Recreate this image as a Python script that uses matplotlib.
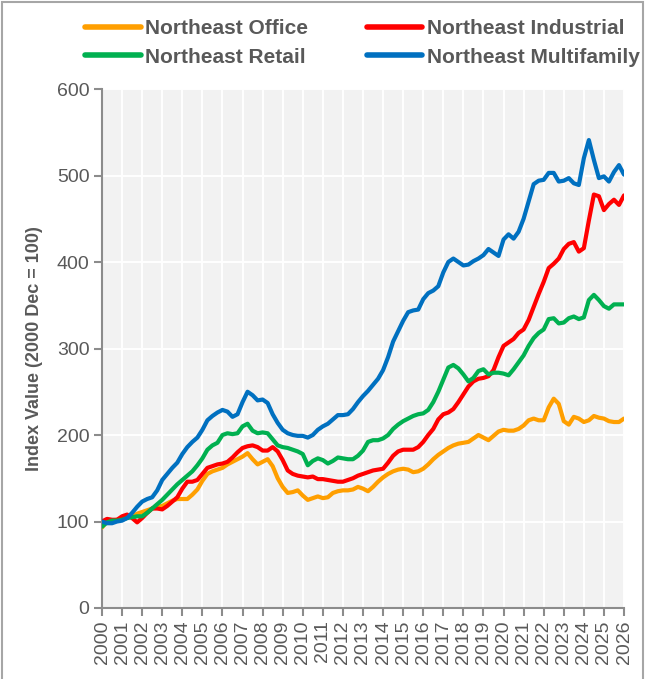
import numpy as np
import matplotlib
matplotlib.use("Agg")
import matplotlib.pyplot as plt
from matplotlib.patches import Rectangle

plt.rcParams['font.family'] = ['Liberation Sans', 'DejaVu Sans']

# quarterly index values, 2000Q1 .. 2026Q1
office = [93, 100, 101, 102, 103, 105, 106, 109, 111, 113, 115, 117, 118, 121, 124, 126,
          126, 126, 131, 137, 147, 155, 158, 160, 162, 166, 169, 172, 175, 179, 172, 166,
          169, 172, 164, 150, 140, 133, 134, 136, 130, 125, 127, 129, 127, 128, 133, 135,
          136, 136, 137, 140, 138, 135, 140, 146, 151, 155, 158, 160, 161, 160, 157, 158,
          161, 166, 172, 177, 181, 185, 188, 190, 191, 192, 196, 200, 197, 194, 199, 204,
          206, 205, 205, 207, 211, 217, 219, 217, 217, 232, 242, 236, 216, 212, 221, 219,
          215, 217, 222, 220, 219, 216, 215, 215, 219]
industrial = [100, 103, 102, 102, 106, 108, 104, 99, 104, 110, 115, 115, 114, 118, 123, 128,
              138, 146, 146, 148, 155, 162, 164, 166, 167, 169, 174, 180, 185, 187, 188, 186,
              182, 182, 186, 181, 171, 159, 155, 153, 152, 151, 152, 149, 149, 148, 147, 146,
              146, 148, 150, 153, 155, 157, 159, 160, 161, 168, 176, 181, 183, 183, 183, 186,
              192, 200, 207, 218, 224, 226, 230, 238, 247, 256, 262, 265, 266, 268, 275, 290,
              303, 307, 311, 318, 322, 333, 348, 363, 377, 393, 398, 404, 415, 421, 423, 412,
              416, 448, 478, 476, 460, 467, 472, 466, 477]
retail = [94, 99, 101, 101, 102, 104, 105, 106, 106, 110, 115, 120, 125, 131, 137, 143,
          148, 153, 158, 165, 173, 183, 188, 191, 200, 202, 201, 202, 210, 213, 205, 202,
          203, 202, 195, 188, 186, 185, 183, 181, 178, 165, 170, 173, 171, 167, 170, 174,
          173, 172, 172, 176, 182, 192, 194, 194, 196, 200, 207, 212, 216, 219, 222, 224,
          225, 229, 238, 250, 264, 278, 281, 277, 270, 262, 266, 274, 276, 270, 272, 272,
          271, 269, 276, 284, 292, 303, 312, 318, 322, 334, 335, 329, 330, 335, 337, 334,
          336, 356, 362, 356, 349, 346, 351, 351, 351]
multifamily = [100, 98, 98, 100, 101, 104, 110, 117, 123, 126, 128, 136, 148, 155, 162, 168,
               178, 186, 192, 197, 206, 217, 222, 226, 229, 227, 221, 224, 238, 250, 246, 240,
               241, 237, 224, 214, 206, 202, 200, 199, 199, 197, 200, 206, 210, 213, 218, 223,
               223, 224, 230, 238, 245, 251, 258, 265, 275, 290, 308, 320, 332, 342, 344, 345,
               357, 364, 367, 372, 388, 400, 404, 400, 396, 397, 401, 404, 408, 415, 411, 407,
               426, 432, 427, 435, 450, 470, 490, 494, 495, 503, 503, 493, 494, 497, 491, 489,
               520, 541, 518, 497, 499, 493, 504, 512, 501]

series_names = ["Northeast Office", "Northeast Industrial", "Northeast Retail", "Northeast Multifamily"]
series_colors = ["#FF9F00", "#FF0000", "#00B050", "#0070C0"]
years = list(range(2000, 2027))

x = 2000 + np.arange(len(office)) / 4.0

fig = plt.figure(figsize=(6.49, 6.79), dpi=100)
ax = fig.add_axes([102 / 649, 1 - 608 / 679, (624 - 102) / 649, (608 - 89) / 679])
ax.set_facecolor("#F2F2F2")

lines = {}
for name, vals, col in zip(series_names, [office, industrial, retail, multifamily], series_colors):
    lines[name], = ax.plot(x, vals, color=col, lw=3, solid_capstyle="round", solid_joinstyle="round", zorder=3)

ax.set_xlim(2000, 2026)
ax.set_ylim(0, 600)
ax.set_xticks(years)
ax.set_xticklabels([str(y) for y in years], rotation=90, fontsize=14, color="#595959")
ax.set_yticks(range(0, 601, 100))
ax.set_yticklabels([str(v) for v in range(0, 601, 100)], fontsize=14, color="#595959")
ax.grid(True, color="white", lw=1.4, zorder=1)
ax.set_axisbelow(True)
for s in ["top", "right"]:
    ax.spines[s].set_visible(False)
for s in ["left", "bottom"]:
    ax.spines[s].set_color("#8C8C8C")
    ax.spines[s].set_linewidth(1.5)
ax.tick_params(axis="both", direction="out", length=6, width=1.5, color="#8C8C8C", pad=3)
ax.set_ylabel("Index Value (2000 Dec = 100)", fontsize=13, fontweight="bold", color="#595959", labelpad=10)

order = ["Northeast Office", "Northeast Retail", "Northeast Industrial", "Northeast Multifamily"]
leg = fig.legend([lines[n] for n in order], order, ncol=2, frameon=False,
                 loc="upper left", bbox_to_anchor=(75 / 649, 1 - 9 / 679),
                 borderpad=0, handlelength=2.65, handletextpad=0.2, columnspacing=2.85,
                 labelspacing=0.45, prop={"size": 15, "weight": "bold"})
for t in leg.get_texts():
    t.set_color("#595959")
for h in leg.legend_handles:
    h.set_linewidth(4)

fig.patches.append(Rectangle((2 / 649, -0.02), 641 / 649, 1.02 - 2 / 679, transform=fig.transFigure,
                             fill=False, edgecolor="#A6A6A6", lw=1.5))

fig.savefig("out.png", dpi=100)
